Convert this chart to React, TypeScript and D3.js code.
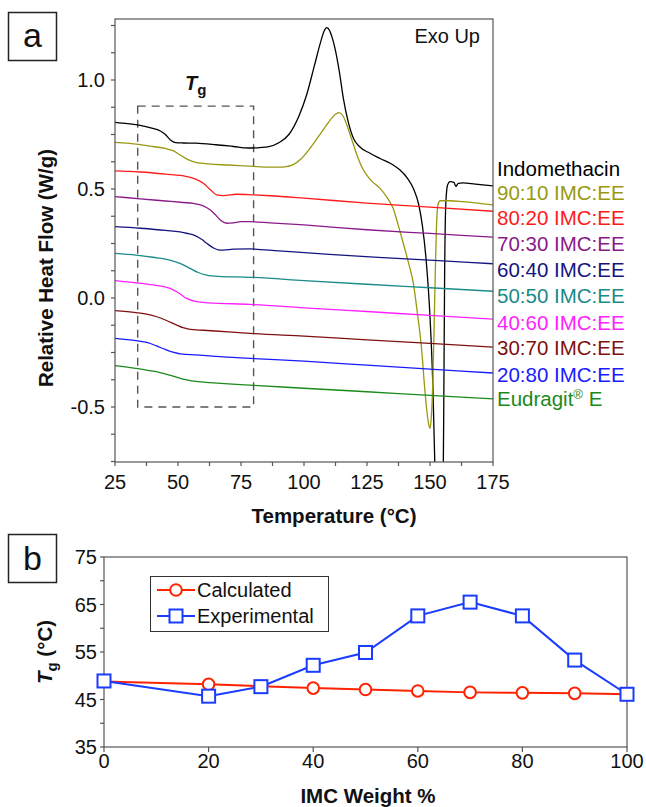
import React from "react";
import * as d3 from "d3";

// ---------- Panel a data: DSC curves (temperature °C, relative heat flow W/g) ----------
const indomethacin: [number, number][] = [
  [25, 0.806], [30, 0.8], [35, 0.792], [40, 0.778], [43, 0.766], [45, 0.75], [47, 0.725], [49, 0.713],
  [52, 0.711], [57, 0.71], [65, 0.703], [72, 0.695], [78, 0.688], [82.5, 0.69], [86, 0.694], [90, 0.712],
  [94, 0.75], [98, 0.835], [101, 0.93], [104, 1.06], [106.5, 1.17], [108, 1.225], [109, 1.24], [110, 1.23],
  [111.3, 1.19], [112.3, 1.145], [114, 1.04], [115.6, 0.917], [117.5, 0.81], [119.6, 0.733], [122, 0.695],
  [126.2, 0.664], [130.2, 0.64], [135.4, 0.61], [138, 0.588], [141, 0.55], [143.5, 0.5], [145.5, 0.43],
  [147, 0.33], [148.5, 0.17], [150, -0.086], [151.1, -0.39], [152, -0.8], [152.5, -1.0], [155, -1.0],
  [155.4, -0.6], [155.8, 0.1], [156.3, 0.44], [157, 0.52], [158, 0.534], [159.5, 0.53], [160.3, 0.512],
  [161.2, 0.526], [163, 0.528], [168, 0.522], [175, 0.514],
];
const imc90: [number, number][] = [
  [25, 0.714], [30, 0.71], [33.3, 0.706], [40, 0.695], [45, 0.686], [48, 0.676], [51, 0.655], [54, 0.635],
  [57.4, 0.621], [62, 0.615], [70, 0.61], [78.6, 0.605], [86.5, 0.6], [90, 0.6], [93, 0.603], [95.7, 0.612],
  [99, 0.64], [102.4, 0.687], [106, 0.745], [109, 0.794], [111.5, 0.832], [113.9, 0.85], [115.5, 0.835],
  [117, 0.794], [119, 0.725], [121, 0.656], [123, 0.6], [124.9, 0.564], [127, 0.535], [130.2, 0.503],
  [133, 0.46], [135.4, 0.411], [137.5, 0.33], [139.4, 0.251], [141.5, 0.16], [143.4, 0.067], [145, -0.07],
  [146.7, -0.239], [147.8, -0.4], [148.7, -0.514], [149.5, -0.58], [150, -0.598], [150.5, -0.55],
  [151.1, -0.39], [151.6, -0.15], [152, 0.067], [152.5, 0.3], [152.9, 0.404], [153.5, 0.44], [154, 0.446],
  [158, 0.446], [163, 0.442], [175, 0.427],
];
const imc80: [number, number][] = [
  [25, 0.583], [30, 0.581], [35, 0.578], [45, 0.568], [53.4, 0.557], [57, 0.545], [60, 0.526], [63, 0.495],
  [65.3, 0.473], [68, 0.47], [73.3, 0.476], [80, 0.473], [86.5, 0.469], [100, 0.458], [125, 0.435],
  [150, 0.417], [175, 0.398],
];
const imc70: [number, number][] = [
  [25, 0.465], [35, 0.455], [45, 0.445], [52, 0.438], [56.1, 0.434], [60, 0.423], [62.7, 0.405], [65, 0.38],
  [67, 0.355], [69.3, 0.343], [72, 0.345], [75, 0.35], [78.6, 0.35], [86.5, 0.345], [100, 0.335],
  [125, 0.313], [150, 0.296], [175, 0.279],
];
const imc60: [number, number][] = [
  [25, 0.327], [35, 0.32], [45, 0.31], [53.4, 0.297], [57, 0.285], [59.5, 0.268], [61.4, 0.251], [64, 0.23],
  [66, 0.221], [68, 0.22], [72, 0.224], [78.6, 0.225], [90, 0.216], [110, 0.2], [135, 0.183], [155, 0.17],
  [175, 0.157],
];
const imc50: [number, number][] = [
  [25, 0.205], [33.3, 0.197], [40, 0.187], [46.8, 0.174], [51, 0.158], [54.8, 0.136], [58, 0.117],
  [61.4, 0.105], [66, 0.099], [78.6, 0.095], [100, 0.08], [125, 0.063], [150, 0.047], [175, 0.031],
];
const imc40: [number, number][] = [
  [25, 0.08], [33.3, 0.07], [40, 0.06], [46.8, 0.044], [50, 0.025], [53.4, -0.002], [57.4, -0.017],
  [62, -0.022], [78.6, -0.029], [100, -0.045], [125, -0.062], [150, -0.08], [175, -0.097],
];
const imc30: [number, number][] = [
  [25, -0.058], [33.3, -0.067], [38, -0.075], [41.5, -0.086], [45, -0.101], [49.5, -0.124], [52, -0.136],
  [54.8, -0.144], [60, -0.148], [70, -0.155], [78.6, -0.162], [100, -0.175], [125, -0.192], [150, -0.208],
  [175, -0.225],
];
const imc20: [number, number][] = [
  [25, -0.185], [33.3, -0.196], [38, -0.205], [41.5, -0.22], [45, -0.236], [48, -0.248], [51, -0.256],
  [57.4, -0.261], [65, -0.268], [78.6, -0.277], [100, -0.29], [125, -0.308], [150, -0.326], [175, -0.344],
];
const eudragit: [number, number][] = [
  [25, -0.31], [33.3, -0.323], [38, -0.332], [42.9, -0.342], [48, -0.358], [53.4, -0.376], [58, -0.384],
  [62.7, -0.388], [70, -0.394], [78.6, -0.4], [100, -0.414], [125, -0.43], [150, -0.447], [175, -0.463],
];

const seriesNames = [
  "Indomethacin", "90:10 IMC:EE", "80:20 IMC:EE", "70:30 IMC:EE", "60:40 IMC:EE",
  "50:50 IMC:EE", "40:60 IMC:EE", "30:70 IMC:EE", "20:80 IMC:EE", "Eudragit",
];
const seriesData = [indomethacin, imc90, imc80, imc70, imc60, imc50, imc40, imc30, imc20, eudragit];
const seriesColors = [
  "#000000", "#999910", "#ff1a1a", "#8a1a8a", "#14147f", "#1a8a8a", "#ff22ff", "#7f1010", "#1a1aff", "#1a8a1a",
];
const labelBaselines = [176, 200, 225, 251, 277, 303, 330, 355, 382, 406];

const xTicksA = [25, 50, 75, 100, 125, 150, 175];
const yTicksA = [-0.5, 0.0, 0.5, 1.0];
const yTickLabelsA = ["-0.5", "0.0", "0.5", "1.0"];

// Tg box region
const tgBoxX = [34, 80];
const tgBoxY = [-0.5, 0.88];

// ---------- Panel b data ----------
const imcWeight = [0, 20, 30, 40, 50, 60, 70, 80, 90, 100];
const tgCalculated = [48.8, 48.2, 47.8, 47.4, 47.1, 46.8, 46.5, 46.4, 46.3, 46.1];
const tgExperimental = [48.9, 45.7, 47.7, 52.2, 54.9, 62.6, 65.5, 62.6, 53.3, 46.1];
const xTicksB = [0, 20, 40, 60, 80, 100];
const yTicksB = [35, 45, 55, 65, 75];

const FONT = "Arial, 'Liberation Sans', Helvetica, sans-serif";
const AXIS = "#555";

export default function App() {
  // Panel a scales
  const ax = d3.scaleLinear().domain([25, 175]).range([115, 493]);
  const ay = d3.scaleLinear().domain([0, 0.5]).range([298, 189]);
  const aTop = 19;
  const aBottom = 462;
  const line = d3
    .line<[number, number]>()
    .x((d) => ax(d[0]))
    .y((d) => ay(d[1]))
    .curve(d3.curveMonotoneX);
  const minorX = d3.range(25, 175.01, 12.5);
  const minorY: number[] = [];
  for (let v = -0.75; v <= 1.26; v += 0.125) minorY.push(Math.round(v * 1000) / 1000);

  // Panel b scales
  const bx = d3.scaleLinear().domain([0, 100]).range([104, 627]);
  const by = d3.scaleLinear().domain([35, 75]).range([747, 557]);
  const minorYB = d3.range(35, 75.01, 5);
  const calcLine = d3
    .line<number>()
    .x((_, i) => bx(imcWeight[i]))
    .y((d) => by(d));

  return (
    <svg
      width={646}
      height={807}
      style={{ position: "absolute", left: 0, top: 0, background: "#fff" }}
      fontFamily={FONT}
    >
      <defs>
        <clipPath id="clipA">
          <rect x={115} y={aTop} width={378} height={aBottom - aTop} />
        </clipPath>
      </defs>

      {/* ---- Panel a ---- */}
      <rect x={8.5} y={12.5} width={48} height={48} fill="none" stroke="#222" strokeWidth={1.5} />
      <text x={32.5} y={47} fontSize={34} textAnchor="middle" fill="#111">a</text>

      {/* Tg dashed box */}
      <rect
        x={ax(tgBoxX[0])}
        y={ay(tgBoxY[1])}
        width={ax(tgBoxX[1]) - ax(tgBoxX[0])}
        height={ay(tgBoxY[0]) - ay(tgBoxY[1])}
        fill="none"
        stroke="#555"
        strokeWidth={1.4}
        strokeDasharray="8,6"
      />
      <text x={185} y={90} fontSize={20} fontWeight="bold" fontStyle="italic" fill="#111">
        T
        <tspan fontSize={15} dy={5} fontStyle="normal">g</tspan>
      </text>

      {/* curves */}
      <g clipPath="url(#clipA)">
        {seriesData.map((s, i) => (
          <path key={i} d={line(s) || ""} fill="none" stroke={seriesColors[i]} strokeWidth={1.3} />
        ))}
      </g>

      {/* frame */}
      <rect x={115} y={aTop} width={378} height={aBottom - aTop} fill="none" stroke={AXIS} strokeWidth={1.2} />
      {/* x ticks */}
      {minorX.map((t) => (
        <line key={"mx" + t} x1={ax(t)} x2={ax(t)} y1={aBottom} y2={aBottom + 4} stroke={AXIS} strokeWidth={1.2} />
      ))}
      {xTicksA.map((t) => (
        <text key={"tx" + t} x={ax(t)} y={489} fontSize={20} textAnchor="middle" fill="#111">
          {t}
        </text>
      ))}
      {/* y ticks */}
      {minorY.map((t) => (
        <line key={"my" + t} x1={111} x2={115} y1={ay(t)} y2={ay(t)} stroke={AXIS} strokeWidth={1.2} />
      ))}
      {yTicksA.map((t, i) => (
        <text key={"ty" + t} x={105} y={ay(t) + 7} fontSize={20} textAnchor="end" fill="#111">
          {yTickLabelsA[i]}
        </text>
      ))}

      <text x={480} y={43} fontSize={20} textAnchor="end" fill="#111">Exo Up</text>

      {/* series labels */}
      {seriesNames.map((n, i) => (
        <text key={n} x={497} y={labelBaselines[i]} fontSize={20.5} fill={seriesColors[i]}>
          {n === "Eudragit" ? (
            <>
              Eudragit
              <tspan fontSize={13} dy={-7}>®</tspan>
              <tspan dy={7}> E</tspan>
            </>
          ) : (
            n
          )}
        </text>
      ))}

      {/* axis titles */}
      <text
        transform="translate(53,268) rotate(-90)"
        fontSize={20.5}
        fontWeight="bold"
        textAnchor="middle"
        fill="#111"
      >
        Relative Heat Flow (W/g)
      </text>
      <text x={334} y={523} fontSize={20.5} fontWeight="bold" textAnchor="middle" fill="#111">
        Temperature (°C)
      </text>

      {/* ---- Panel b ---- */}
      <rect x={8.5} y={534.5} width={48} height={48} fill="none" stroke="#222" strokeWidth={1.5} />
      <text x={32.5} y={570} fontSize={34} textAnchor="middle" fill="#111">b</text>

      <rect x={104} y={557} width={523} height={190} fill="none" stroke={AXIS} strokeWidth={1.2} />
      {minorYB.map((t) => (
        <line key={"mby" + t} x1={100} x2={104} y1={by(t)} y2={by(t)} stroke={AXIS} strokeWidth={1.2} />
      ))}
      {yTicksB.map((t) => (
        <text key={"tby" + t} x={97} y={by(t) + 7} fontSize={20} textAnchor="end" fill="#111">
          {t}
        </text>
      ))}
      {xTicksB.map((t) => (
        <g key={"tbx" + t}>
          <line x1={bx(t)} x2={bx(t)} y1={747} y2={752} stroke={AXIS} strokeWidth={1.2} />
          <text x={bx(t)} y={768} fontSize={20} textAnchor="middle" fill="#111">
            {t}
          </text>
        </g>
      ))}

      {/* calculated */}
      <path d={calcLine(tgCalculated) || ""} fill="none" stroke="#ff2200" strokeWidth={2} />
      {tgCalculated.map((v, i) => (
        <circle key={"c" + i} cx={bx(imcWeight[i])} cy={by(v)} r={5.8} fill="#fff" stroke="#ff2200" strokeWidth={2} />
      ))}
      {/* experimental */}
      <path d={calcLine(tgExperimental) || ""} fill="none" stroke="#1a3cff" strokeWidth={2} />
      {tgExperimental.map((v, i) => (
        <rect
          key={"e" + i}
          x={bx(imcWeight[i]) - 6.5}
          y={by(v) - 6.5}
          width={13}
          height={13}
          fill="#fff"
          stroke="#1a3cff"
          strokeWidth={2}
        />
      ))}

      {/* legend */}
      <rect x={150.5} y={576.5} width={178} height={55} fill="#fff" stroke="#333" strokeWidth={1} />
      <line x1={157} x2={195} y1={590} y2={590} stroke="#ff2200" strokeWidth={2} />
      <circle cx={176} cy={590} r={5.8} fill="#fff" stroke="#ff2200" strokeWidth={2} />
      <text x={197} y={597} fontSize={20} fill="#111">Calculated</text>
      <line x1={157} x2={195} y1={616} y2={616} stroke="#1a3cff" strokeWidth={2} />
      <rect x={169.5} y={609.5} width={13} height={13} fill="#fff" stroke="#1a3cff" strokeWidth={2} />
      <text x={197} y={623} fontSize={20} fill="#111">Experimental</text>

      <text transform="translate(52,652) rotate(-90)" fontSize={20.5} fontWeight="bold" textAnchor="middle" fill="#111">
        <tspan fontStyle="italic">T</tspan>
        <tspan fontSize={15} dy={5}>g</tspan>
        <tspan dy={-5}> (°C)</tspan>
      </text>
      <text x={368} y={803} fontSize={20.5} fontWeight="bold" textAnchor="middle" fill="#111">
        IMC Weight %
      </text>
    </svg>
  );
}
